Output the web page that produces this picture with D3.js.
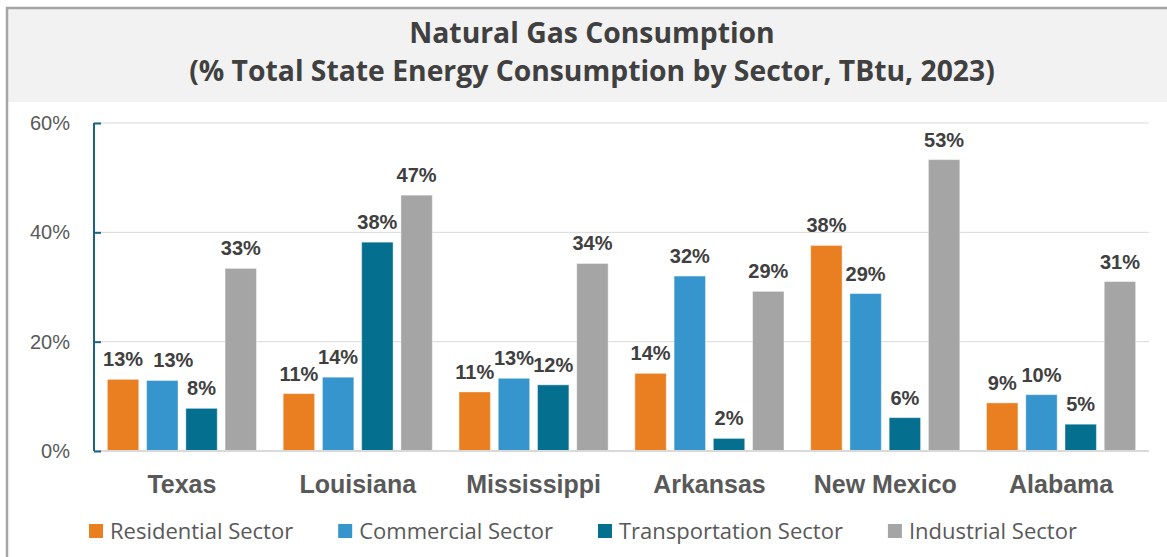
<!DOCTYPE html>
<html lang="en">
<head>
    <meta charset="UTF-8">
    <title>Natural Gas Consumption</title>
    <script src="https://d3js.org/d3.v7.min.js"></script>
    <style>
        body, html {
            margin: 0;
            overflow: hidden;
            background-color: #ffffff;
        }
        .label-font { font-family: "Liberation Sans", Arial, sans-serif; }
        .title { font-family: "Open Sans", sans-serif; font-weight: bold; font-size: 28.3px; fill: #404040; }
        .grid line { stroke: #d9d9d9; stroke-width: 1px; }
    </style>
</head>
<body>
<script>
    // data
    const states = ['Texas', 'Louisiana', 'Mississippi', 'Arkansas', 'New Mexico', 'Alabama'];
    const sectors = ['Residential Sector', 'Commercial Sector', 'Transportation Sector', 'Industrial Sector'];
    const residential = [13.1, 10.5, 10.8, 14.2, 37.6, 8.8];
    const commercial = [12.9, 13.5, 13.3, 32.0, 28.8, 10.3];
    const transportation = [7.8, 38.2, 12.1, 2.3, 6.1, 4.9];
    const industrial = [33.4, 46.8, 34.3, 29.2, 53.3, 31.0];
    const yTicks = [0, 20, 40, 60];
    const colors = ['#e97f20', '#3595cc', '#056f8f', '#a5a5a5'];
    const titleLines = ['Natural Gas Consumption', '(% Total State Energy Consumption by Sector, TBtu, 2023)'];

    const series = [residential, commercial, transportation, industrial];

    const width = 1167, height = 557;
    const margin = { top: 123, right: 18, bottom: 106, left: 94 };

    const svg = d3.select('body').append('svg')
        .attr('width', width)
        .attr('height', height);

    // frame and title band
    svg.append('rect')
        .attr('x', 8).attr('y', 9)
        .attr('width', width).attr('height', 93)
        .attr('fill', '#f2f2f2');
    svg.append('line')
        .attr('x1', 6).attr('x2', width).attr('y1', 8).attr('y2', 8)
        .attr('stroke', '#a6a6a6').attr('stroke-width', 2.5);
    svg.append('line')
        .attr('x1', 7).attr('x2', 7).attr('y1', 7).attr('y2', height)
        .attr('stroke', '#a6a6a6').attr('stroke-width', 2.5);

    svg.selectAll('.title')
        .data(titleLines)
        .enter().append('text')
        .attr('class', 'title')
        .attr('x', 592)
        .attr('y', (d, i) => 43 + i * 38)
        .attr('text-anchor', 'middle')
        .text(d => d);

    const plotW = width - margin.left - margin.right;
    const plotH = height - margin.top - margin.bottom;

    const g = svg.append('g')
        .attr('transform', `translate(${margin.left},${margin.top})`);

    const x0 = d3.scaleBand().domain(states).range([0, plotW]).paddingInner(0.152).paddingOuter(0.076);
    const x1 = d3.scaleBand().domain(d3.range(sectors.length)).range([0, x0.bandwidth()]).paddingInner(0.2);
    const y = d3.scaleLinear().domain([0, 60]).range([plotH, 0]);

    // gridlines
    g.append('g').attr('class', 'grid')
        .selectAll('line')
        .data(yTicks.filter(d => d > 0))
        .enter().append('line')
        .attr('x1', 0).attr('x2', plotW)
        .attr('y1', d => y(d)).attr('y2', d => y(d));

    // bars
    const groups = g.selectAll('.state')
        .data(states)
        .enter().append('g')
        .attr('class', 'state')
        .attr('transform', d => `translate(${x0(d)},0)`);

    groups.selectAll('rect')
        .data((d, i) => series.map((s, k) => ({ k: k, v: s[i] })))
        .enter().append('rect')
        .attr('x', d => x1(d.k))
        .attr('width', x1.bandwidth())
        .attr('y', d => y(d.v))
        .attr('height', d => y(0) - y(d.v))
        .attr('fill', d => colors[d.k])
        .attr('stroke', '#ffffff')
        .attr('stroke-opacity', 0.4)
        .attr('stroke-width', 1);

    const labels = groups.selectAll('.val')
        .data((d, i) => series.map((s, k) => ({ k: k, v: s[i] })))
        .enter().append('text')
        .attr('class', 'val label-font')
        .attr('x', d => x1(d.k) + x1.bandwidth() / 2)
        .attr('y', d => y(d.v) - 13)
        .attr('text-anchor', 'middle')
        .style('font-size', '20px')
        .style('font-weight', 'bold')
        .style('fill', '#404040')
        .text(d => Math.round(d.v) + '%');

    // push a label right when it sits at the same height as its neighbour and overlaps it
    groups.each(function () {
        let prev = null;
        d3.select(this).selectAll('.val').each(function () {
            const b = this.getBBox();
            if (prev && Math.abs(prev.y - b.y) < 5 && b.x < prev.x + prev.width + 10) {
                const shift = prev.x + prev.width + 10 - b.x;
                this.setAttribute('x', +this.getAttribute('x') + shift);
                b.x += shift;
            }
            prev = { x: b.x, y: b.y, width: b.width };
        });
    });

    // baseline
    g.append('line')
        .attr('x1', 0).attr('x2', plotW)
        .attr('y1', y(0)).attr('y2', y(0))
        .attr('stroke', '#d9d9d9').attr('stroke-width', 2);

    // y axis
    const yAxis = g.append('g')
        .call(d3.axisLeft(y).tickValues(yTicks).tickSize(-7).tickPadding(24).tickFormat(d => d + '%'));
    yAxis.select('.domain').attr('stroke', '#1b6384').attr('stroke-width', 2)
        .attr('d', `M0,${y(60)}V${y(0)}`);
    yAxis.selectAll('.tick line').attr('stroke', '#1b6384').attr('stroke-width', 2);
    yAxis.selectAll('.tick text')
        .attr('class', 'label-font')
        .style('font-size', '20px')
        .style('fill', '#595959');

    // x axis labels
    const xAxis = g.append('g')
        .attr('transform', `translate(0,${plotH})`)
        .call(d3.axisBottom(x0).tickSize(0));
    xAxis.select('.domain').remove();
    xAxis.selectAll('.tick text')
        .attr('class', 'label-font')
        .attr('dy', 0)
        .attr('y', 42)
        .style('font-size', '25px')
        .style('font-weight', 'bold')
        .style('fill', '#595959');

    // legend
    const legend = svg.append('g').attr('transform', 'translate(89,531)');
    let lx = 0;
    sectors.forEach((s, k) => {
        const item = legend.append('g').attr('transform', `translate(${lx},0)`);
        item.append('rect')
            .attr('x', 0).attr('y', -7)
            .attr('width', 14).attr('height', 14)
            .attr('fill', colors[k]);
        const t = item.append('text')
            .attr('x', 21).attr('y', 8)
            .style('font-family', '"Open Sans", sans-serif')
            .style('font-size', '22px')
            .style('fill', '#595959')
            .text(s);
        lx += 21 + t.node().getComputedTextLength() + 45;
    });
</script>
</body>
</html>
